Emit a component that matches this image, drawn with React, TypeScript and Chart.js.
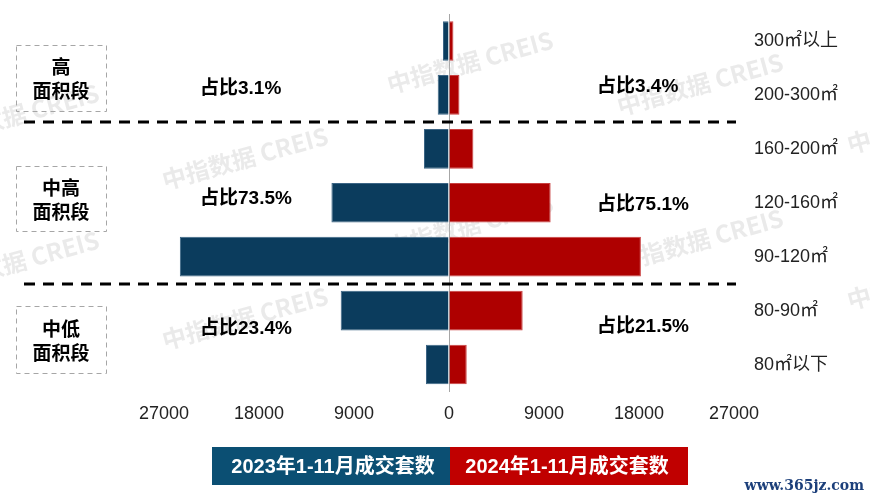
import React, { useEffect, useRef } from 'react';
import { Chart, registerables } from 'chart.js';

Chart.register(...registerables);

// ---- data ----
const categories = ['300㎡以上', '200-300㎡', '160-200㎡', '120-160㎡', '90-120㎡', '80-90㎡', '80㎡以下'];
const sales2023 = [570, 1070, 2370, 11140, 25500, 10260, 2180];
const sales2024 = [420, 990, 2310, 9630, 18180, 6980, 1680];
const xTickValues = [-27000, -18000, -9000, 0, 9000, 18000, 27000];
const seriesNames = ['2023年1-11月成交套数', '2024年1-11月成交套数'];
const groupNames = [['高', '面积段'], ['中高', '面积段'], ['中低', '面积段']];
const shares2023 = ['占比3.1%', '占比73.5%', '占比23.4%'];
const shares2024 = ['占比3.4%', '占比75.1%', '占比21.5%'];
const watermarkText = '中指数据 CREIS';
const siteText = 'www.365jz.com';

const FONT = '"Liberation Sans", Arial, "Noto Sans CJK SC", sans-serif';
const CJK_FONT = '"Noto Sans CJK SC", "Liberation Sans", sans-serif';
const BLUE = '#0b3c5d';
const RED = '#ae0000';
const LEGEND_BLUE = '#0b4f73';
const LEGEND_RED = '#c00000';

const decorPlugin = {
  id: 'decor',
  beforeDatasetsDraw(chart: any) {
    const ctx = chart.ctx;
    ctx.save();
    ctx.fillStyle = 'rgba(185,185,185,0.3)';
    ctx.font = `bold 24px ${CJK_FONT}`;
    ctx.textAlign = 'center';
    ctx.textBaseline = 'middle';
    const spots = [
      [16, 115], [16, 262], [245, 158], [245, 318], [470, 62], [470, 225],
      [700, 84], [700, 240], [930, 122], [930, 278],
    ];
    spots.forEach(([x, y]) => {
      ctx.save();
      ctx.translate(x, y);
      ctx.rotate(-0.27);
      ctx.fillText(watermarkText, 0, 0);
      ctx.restore();
    });
    ctx.restore();
  },
  afterDraw(chart: any) {
    const ctx = chart.ctx;
    const ys = chart.scales.y;
    const area = chart.chartArea;
    ctx.save();

    // group separators
    ctx.strokeStyle = '#000';
    ctx.lineWidth = 3;
    ctx.setLineDash([11, 8]);
    [[1, 2], [4, 5]].forEach(([a, b]) => {
      const y = Math.round((ys.getPixelForValue(a) + ys.getPixelForValue(b)) / 2);
      ctx.beginPath();
      ctx.moveTo(24, y);
      ctx.lineTo(area.right + 2, y);
      ctx.stroke();
    });

    // group boxes
    ctx.strokeStyle = '#a6a6a6';
    ctx.lineWidth = 1;
    ctx.setLineDash([5, 4]);
    const boxes = [[45, 111], [166, 231], [306, 373]];
    boxes.forEach(([t, b], i) => {
      ctx.strokeRect(16.5, t + 0.5, 90, b - t);
      ctx.setLineDash([]);
      ctx.fillStyle = '#000';
      ctx.font = `bold 19px ${CJK_FONT}`;
      ctx.textAlign = 'center';
      ctx.textBaseline = 'middle';
      const mid = (t + b) / 2;
      ctx.fillText(groupNames[i][0], 61, mid - 11);
      ctx.fillText(groupNames[i][1], 61, mid + 13);
      ctx.setLineDash([5, 4]);
    });
    ctx.setLineDash([]);

    // share labels
    ctx.fillStyle = '#000';
    ctx.font = `bold 19px ${FONT}`;
    ctx.textAlign = 'left';
    ctx.textBaseline = 'middle';
    const leftY = [89, 199, 329];
    const rightY = [87, 205, 327];
    shares2023.forEach((s, i) => ctx.fillText(s, 200, leftY[i]));
    shares2024.forEach((s, i) => ctx.fillText(s, 597, rightY[i]));

    // legend
    const lt = 447, lb = 485, mid = 450;
    ctx.fillStyle = LEGEND_BLUE;
    ctx.fillRect(212, lt, mid - 212, lb - lt);
    ctx.fillStyle = LEGEND_RED;
    ctx.fillRect(mid, lt, 688 - mid, lb - lt);
    ctx.fillStyle = '#fff';
    ctx.font = `bold 20px ${FONT}`;
    ctx.textAlign = 'center';
    ctx.fillText(seriesNames[0], (212 + mid) / 2 + 2, (lt + lb) / 2 + 1);
    ctx.fillText(seriesNames[1], (mid + 688) / 2 - 2, (lt + lb) / 2 + 1);

    // site mark
    ctx.fillStyle = '#1c3f7a';
    ctx.font = `bold 14px "DejaVu Serif", serif`;
    ctx.textAlign = 'right';
    ctx.fillText(siteText, 864, 486);
    ctx.restore();
  },
};

export default function App() {
  const ref = useRef<HTMLCanvasElement | null>(null);
  useEffect(() => {
    if (!ref.current) return;
    const chart = new Chart(ref.current, {
      type: 'bar',
      data: {
        labels: categories,
        datasets: [
          {
            label: seriesNames[0],
            data: sales2023.map((v) => -v),
            backgroundColor: BLUE,
            borderColor: '#3c6585',
            borderWidth: 1,
            barPercentage: 0.735,
            categoryPercentage: 1,
          },
          {
            label: seriesNames[1],
            data: sales2024,
            backgroundColor: RED,
            borderColor: '#c94040',
            borderWidth: 1,
            barPercentage: 0.735,
            categoryPercentage: 1,
          },
        ],
      },
      options: {
        indexAxis: 'y',
        responsive: false,
        animation: false,
        layout: { padding: { left: 164, top: 14, right: 0, bottom: 68.5 } },
        plugins: { legend: { display: false }, tooltip: { enabled: false } },
        scales: {
          x: {
            stacked: true,
            min: -27000,
            max: 27000,
            afterBuildTicks: (axis: any) => {
              axis.ticks = xTickValues.map((v) => ({ value: v }));
            },
            afterFit: (axis: any) => {
              axis.height = 40;
              axis.paddingLeft = 0;
              axis.paddingRight = 0;
            },
            ticks: {
              autoSkip: false,
              maxRotation: 0,
              padding: 12,
              color: '#222',
              font: { family: FONT, size: 18 },
              callback: (v: any) => String(Math.abs(Number(v))),
            },
            grid: {
              drawTicks: false,
              color: (c: any) => (c.tick && c.tick.value === 0 ? '#a6a6a6' : 'rgba(0,0,0,0)'),
              lineWidth: 1,
            },
            border: { display: false },
          },
          y: {
            stacked: true,
            position: 'right',
            afterFit: (axis: any) => {
              axis.width = 136;
              axis.paddingTop = 0;
              axis.paddingBottom = 0;
            },
            ticks: {
              padding: 20,
              color: '#222',
              font: { family: FONT, size: 18 },
            },
            grid: { display: false, drawTicks: false },
            border: { display: false },
          },
        },
      },
      plugins: [decorPlugin],
    } as any);
    return () => chart.destroy();
  }, []);
  return (
    <div style={{ position: 'absolute', left: 0, top: 0, width: 870, height: 500, background: '#fff' }}>
      <canvas ref={ref} width={870} height={500} style={{ display: 'block' }} />
    </div>
  );
}
